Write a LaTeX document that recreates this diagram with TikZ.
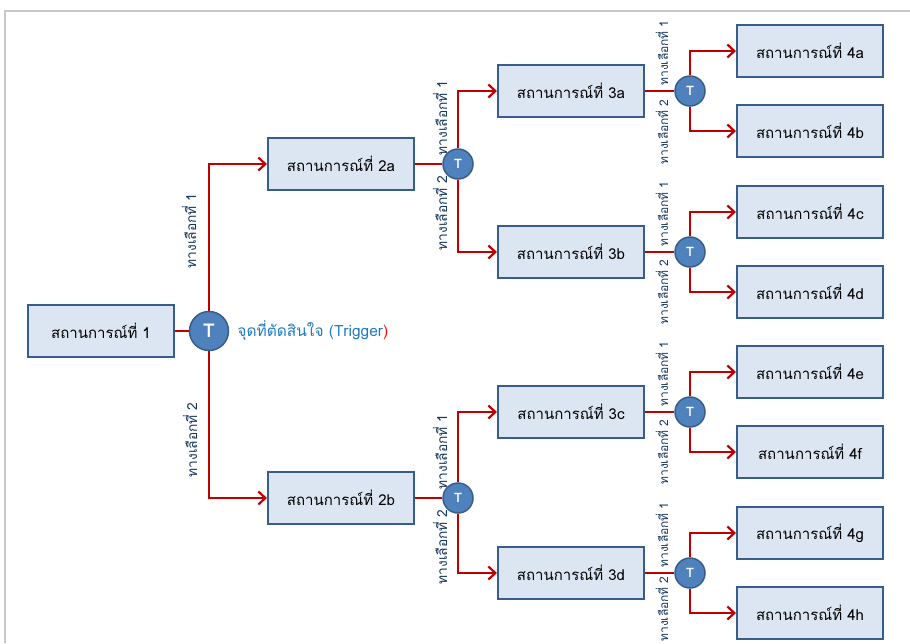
\documentclass[tikz,border=0pt]{standalone}
\usepackage{fontspec}
\newfontfamily\thaifont[Script=Thai]{Loma}
\usetikzlibrary{arrows.meta,positioning}
\definecolor{boxfill}{HTML}{DCE6F2}
\definecolor{boxline}{HTML}{385D8A}
\definecolor{trigfill}{HTML}{4F81BD}
\definecolor{linkred}{HTML}{C00000}
\definecolor{labblue}{HTML}{17375E}
\definecolor{trigtext}{HTML}{1F7BC4}
\definecolor{framegray}{HTML}{C8C8C8}

\begin{document}
\begin{tikzpicture}[x=1pt,y=-1pt,
    scen/.style={draw=boxline, line width=2pt, fill=boxfill, minimum width=146pt, minimum height=52pt,
        font=\thaifont\fontsize{15}{17}\selectfont},
    trig/.style={circle, draw=boxline, line width=1.5pt, fill=trigfill, minimum size=30pt, inner sep=0pt,
        text=white, font=\thaifont\bfseries\fontsize{13}{15}\selectfont},
    bigtrig/.style={trig, minimum size=39pt, font=\thaifont\bfseries\fontsize{19}{21}\selectfont},
    link/.style={draw=linkred, line width=2.2pt},
    pick/.style={link, -{Straight Barb[length=7pt,width=13pt]}},
    choice/.style={rotate=90, text=labblue, inner sep=0pt, font=\thaifont\fontsize{13.8}{16}\selectfont},
    subchoice/.style={choice, font=\thaifont\fontsize{12}{14}\selectfont},
    trignote/.style={text=trigtext, inner sep=0pt, font=\thaifont\fontsize{15.5}{17}\selectfont}
]
    \useasboundingbox (0,0) rectangle (910,643);
    % frame
    \draw[framegray, line width=1.5pt] (5,643) -- (5,11) -- (910,11);

    % first decision
    \node[scen] (s1) at (101,331) {สถานการณ์ที่ 1};
    \node[bigtrig] (t1) at (209,331) {T};
    \node[trignote, right=8pt of t1] (note) {จุดที่ตัดสินใจ (Trigger\textcolor{red}{)}};
    \node[scen] (s2a) at (341,164) {สถานการณ์ที่ 2a};
    \node[scen] (s2b) at (341,498) {สถานการณ์ที่ 2b};
    \draw[link] (s1) -- (t1);
    \draw[pick] (t1) |- (s2a);
    \draw[pick] (t1) |- (s2b);
    \node[choice] (c1a) at (189,231) {ทางเลือกที่ 1};
    \node[choice] (c1b) at (190,440) {ทางเลือกที่ 2};

    % second level
    \node[trig] (t2a) at (458,164) {T};
    \node[trig] (t2b) at (458,498) {T};
    \node[scen] (s3a) at (571,91) {สถานการณ์ที่ 3a};
    \node[scen] (s3b) at (571,252) {สถานการณ์ที่ 3b};
    \node[scen] (s3c) at (571,412) {สถานการณ์ที่ 3c};
    \node[scen] (s3d) at (571,573) {สถานการณ์ที่ 3d};
    \draw[link] (s2a) -- (t2a);
    \draw[link] (s2b) -- (t2b);
    \draw[pick] (t2a) |- (s3a);
    \draw[pick] (t2a) |- (s3b);
    \draw[pick] (t2b) |- (s3c);
    \draw[pick] (t2b) |- (s3d);
    \node[choice] (c2a) at (440,118) {ทางเลือกที่ 1};
    \node[choice] (c2b) at (440,213) {ทางเลือกที่ 2};
    \node[choice] (c2c) at (440,452) {ทางเลือกที่ 1};
    \node[choice] (c2d) at (440,547) {ทางเลือกที่ 2};

    % third level
    \node[trig] (t3a) at (690,91) {T};
    \node[trig] (t3b) at (690,252) {T};
    \node[trig] (t3c) at (690,412) {T};
    \node[trig] (t3d) at (690,573) {T};
    \node[scen] (s4a) at (810,51) {สถานการณ์ที่ 4a};
    \node[scen] (s4b) at (810,131) {สถานการณ์ที่ 4b};
    \node[scen] (s4c) at (810,212) {สถานการณ์ที่ 4c};
    \node[scen] (s4d) at (810,292) {สถานการณ์ที่ 4d};
    \node[scen] (s4e) at (810,372) {สถานการณ์ที่ 4e};
    \node[scen] (s4f) at (810,452) {สถานการณ์ที่ 4f};
    \node[scen] (s4g) at (810,533) {สถานการณ์ที่ 4g};
    \node[scen] (s4h) at (810,613) {สถานการณ์ที่ 4h};
    \draw[link] (s3a) -- (t3a);
    \draw[link] (s3b) -- (t3b);
    \draw[link] (s3c) -- (t3c);
    \draw[link] (s3d) -- (t3d);
    \draw[pick] (t3a) |- (s4a);
    \draw[pick] (t3a) |- (s4b);
    \draw[pick] (t3b) |- (s4c);
    \draw[pick] (t3b) |- (s4d);
    \draw[pick] (t3c) |- (s4e);
    \draw[pick] (t3c) |- (s4f);
    \draw[pick] (t3d) |- (s4g);
    \draw[pick] (t3d) |- (s4h);
    \node[subchoice] (c3a) at (662,53) {ทางเลือกที่ 1};
    \node[subchoice] (c3b) at (662,132) {ทางเลือกที่ 2};
    \node[subchoice] (c3c) at (662,214) {ทางเลือกที่ 1};
    \node[subchoice] (c3d) at (662,292) {ทางเลือกที่ 2};
    \node[subchoice] (c3e) at (662,374) {ทางเลือกที่ 1};
    \node[subchoice] (c3f) at (662,452) {ทางเลือกที่ 2};
    \node[subchoice] (c3g) at (662,535) {ทางเลือกที่ 1};
    \node[subchoice] (c3h) at (662,609) {ทางเลือกที่ 2};
\end{tikzpicture}
\end{document}
